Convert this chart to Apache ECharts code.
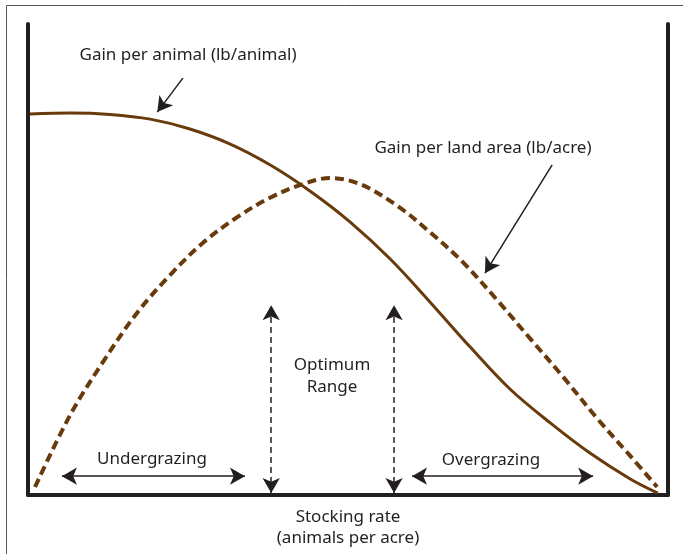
<!DOCTYPE html>
<html>
<head>
<meta charset="utf-8">
<script src="https://cdn.jsdelivr.net/npm/echarts@6/dist/echarts.min.js"></script>
<style>
html, body { margin: 0; padding: 0; background: #fff; }
#chart { width: 683px; height: 554px; }
</style>
</head>
<body>
<div id="chart"></div>
<script>
// stocking rate runs 0-100 across the plot, gains are relative 0-100
const animalRate = [0.3, 6.6, 12.8, 19.1, 25.3, 31.6, 37.8, 44.1, 50.3, 56.6, 62.8, 69.1, 75.3, 81.6, 87.8, 94.1, 98.4];
const animalGain = [80.9, 81.1, 80.8, 79.8, 77.7, 74.5, 70.1, 64.5, 58, 50.1, 41, 31.4, 22.5, 15.3, 8.9, 3.4, 0.4];
const areaRate = [1.1, 6.6, 11.7, 17, 22.2, 27.3, 32.7, 37.8, 42.5, 47.2, 51.9, 57.7, 62.8, 67.9, 73.3, 78.4, 83.6, 88.9, 94.1, 98.3];
const areaGain = [1.7, 17, 28.2, 38.6, 46.7, 53.5, 59, 63.1, 65.8, 67.3, 66, 61.4, 55.8, 49.5, 41.4, 33.3, 25.1, 16.3, 8.3, 1.7];

// optimum range edges, and the under/over grazing spans
const optimumEdges = [38, 57.2];
const optimumTop = 40.3;
const underSpan = [5.3, 33.9];
const overSpan = [60, 88.3];
const spanLevel = 4;

// leader arrows: [from, to]
const animalPointer = [[24.2, 88.5], [20.2, 81.3]];
const areaPointer = [[81.9, 70.1], [71.4, 47.1]];

const ink = '#231f20';
const brown = '#683a0c';
const font = '"Noto Sans", sans-serif';

const zip = (xs, ys) => xs.map((x, i) => [x, ys[i]]);

const twoHead = (a, b) => [{coord: a}, {coord: b}];
const oneHead = (a, b) => [{coord: a, symbol: 'none'}, {coord: b}];

const chart = echarts.init(document.getElementById('chart'));

const hiddenAxis = {
    type: 'value',
    min: 0,
    max: 100,
    axisTick: {show: false},
    axisLabel: {show: false},
    splitLine: {show: false},
    axisLine: {show: true, onZero: false, lineStyle: {color: ink, width: 4}}
};

chart.setOption({
    animation: false,
    grid: {left: 28, right: 15, top: 24, bottom: 59},
    xAxis: Object.assign({}, hiddenAxis, {
        name: 'Stocking rate\n(animals per acre)',
        nameLocation: 'middle',
        nameGap: 12,
        nameTextStyle: {color: ink, fontFamily: font, fontSize: 17, lineHeight: 21, verticalAlign: 'top'}
    }),
    yAxis: [
        Object.assign({}, hiddenAxis, {position: 'left'}),
        Object.assign({}, hiddenAxis, {position: 'right'})
    ],
    series: [
        {
            name: 'Gain per animal',
            type: 'line',
            data: zip(animalRate, animalGain),
            smooth: 0.35,
            showSymbol: false,
            silent: true,
            lineStyle: {color: brown, width: 3},
            markLine: {
                silent: true,
                symbol: ['arrow', 'arrow'],
                symbolSize: [13, 15],
                label: {show: false},
                lineStyle: {color: ink, width: 1.5, type: 'solid'},
                data: [
                    twoHead([underSpan[0], spanLevel], [underSpan[1], spanLevel]),
                    twoHead([overSpan[0], spanLevel], [overSpan[1], spanLevel]),
                    oneHead(animalPointer[0], animalPointer[1]),
                    oneHead(areaPointer[0], areaPointer[1])
                ]
            }
        },
        {
            name: 'Gain per land area',
            type: 'line',
            data: zip(areaRate, areaGain),
            smooth: 0.35,
            showSymbol: false,
            silent: true,
            lineStyle: {color: brown, width: 4, type: [9, 5]},
            markLine: {
                silent: true,
                symbol: ['arrow', 'arrow'],
                symbolSize: [13, 15],
                label: {show: false},
                lineStyle: {color: ink, width: 1.5, type: [6, 4]},
                data: optimumEdges.map(x => twoHead([x, 0.4], [x, optimumTop]))
            }
        }
    ],
    graphic: [
        {
            type: 'polyline',
            silent: true,
            shape: {points: [[6.5, 554], [6.5, 5.5], [683, 5.5]]},
            style: {stroke: '#555', lineWidth: 1, fill: null}
        },
        {type: 'text', x: 188, y: 55, style: {text: 'Gain per animal (lb/animal)', fill: ink, font: '17px ' + font, textAlign: 'center', textVerticalAlign: 'middle'}},
        {type: 'text', x: 483, y: 148, style: {text: 'Gain per land area (lb/acre)', fill: ink, font: '17px ' + font, textAlign: 'center', textVerticalAlign: 'middle'}},
        {type: 'text', x: 332, y: 376, style: {text: 'Optimum\nRange', fill: ink, font: '17px ' + font, lineHeight: 22, textAlign: 'center', textVerticalAlign: 'middle'}},
        {type: 'text', x: 152, y: 459, style: {text: 'Undergrazing', fill: ink, font: '17px ' + font, textAlign: 'center', textVerticalAlign: 'middle'}},
        {type: 'text', x: 491, y: 460, style: {text: 'Overgrazing', fill: ink, font: '17px ' + font, textAlign: 'center', textVerticalAlign: 'middle'}}
    ]
});
</script>
</body>
</html>
